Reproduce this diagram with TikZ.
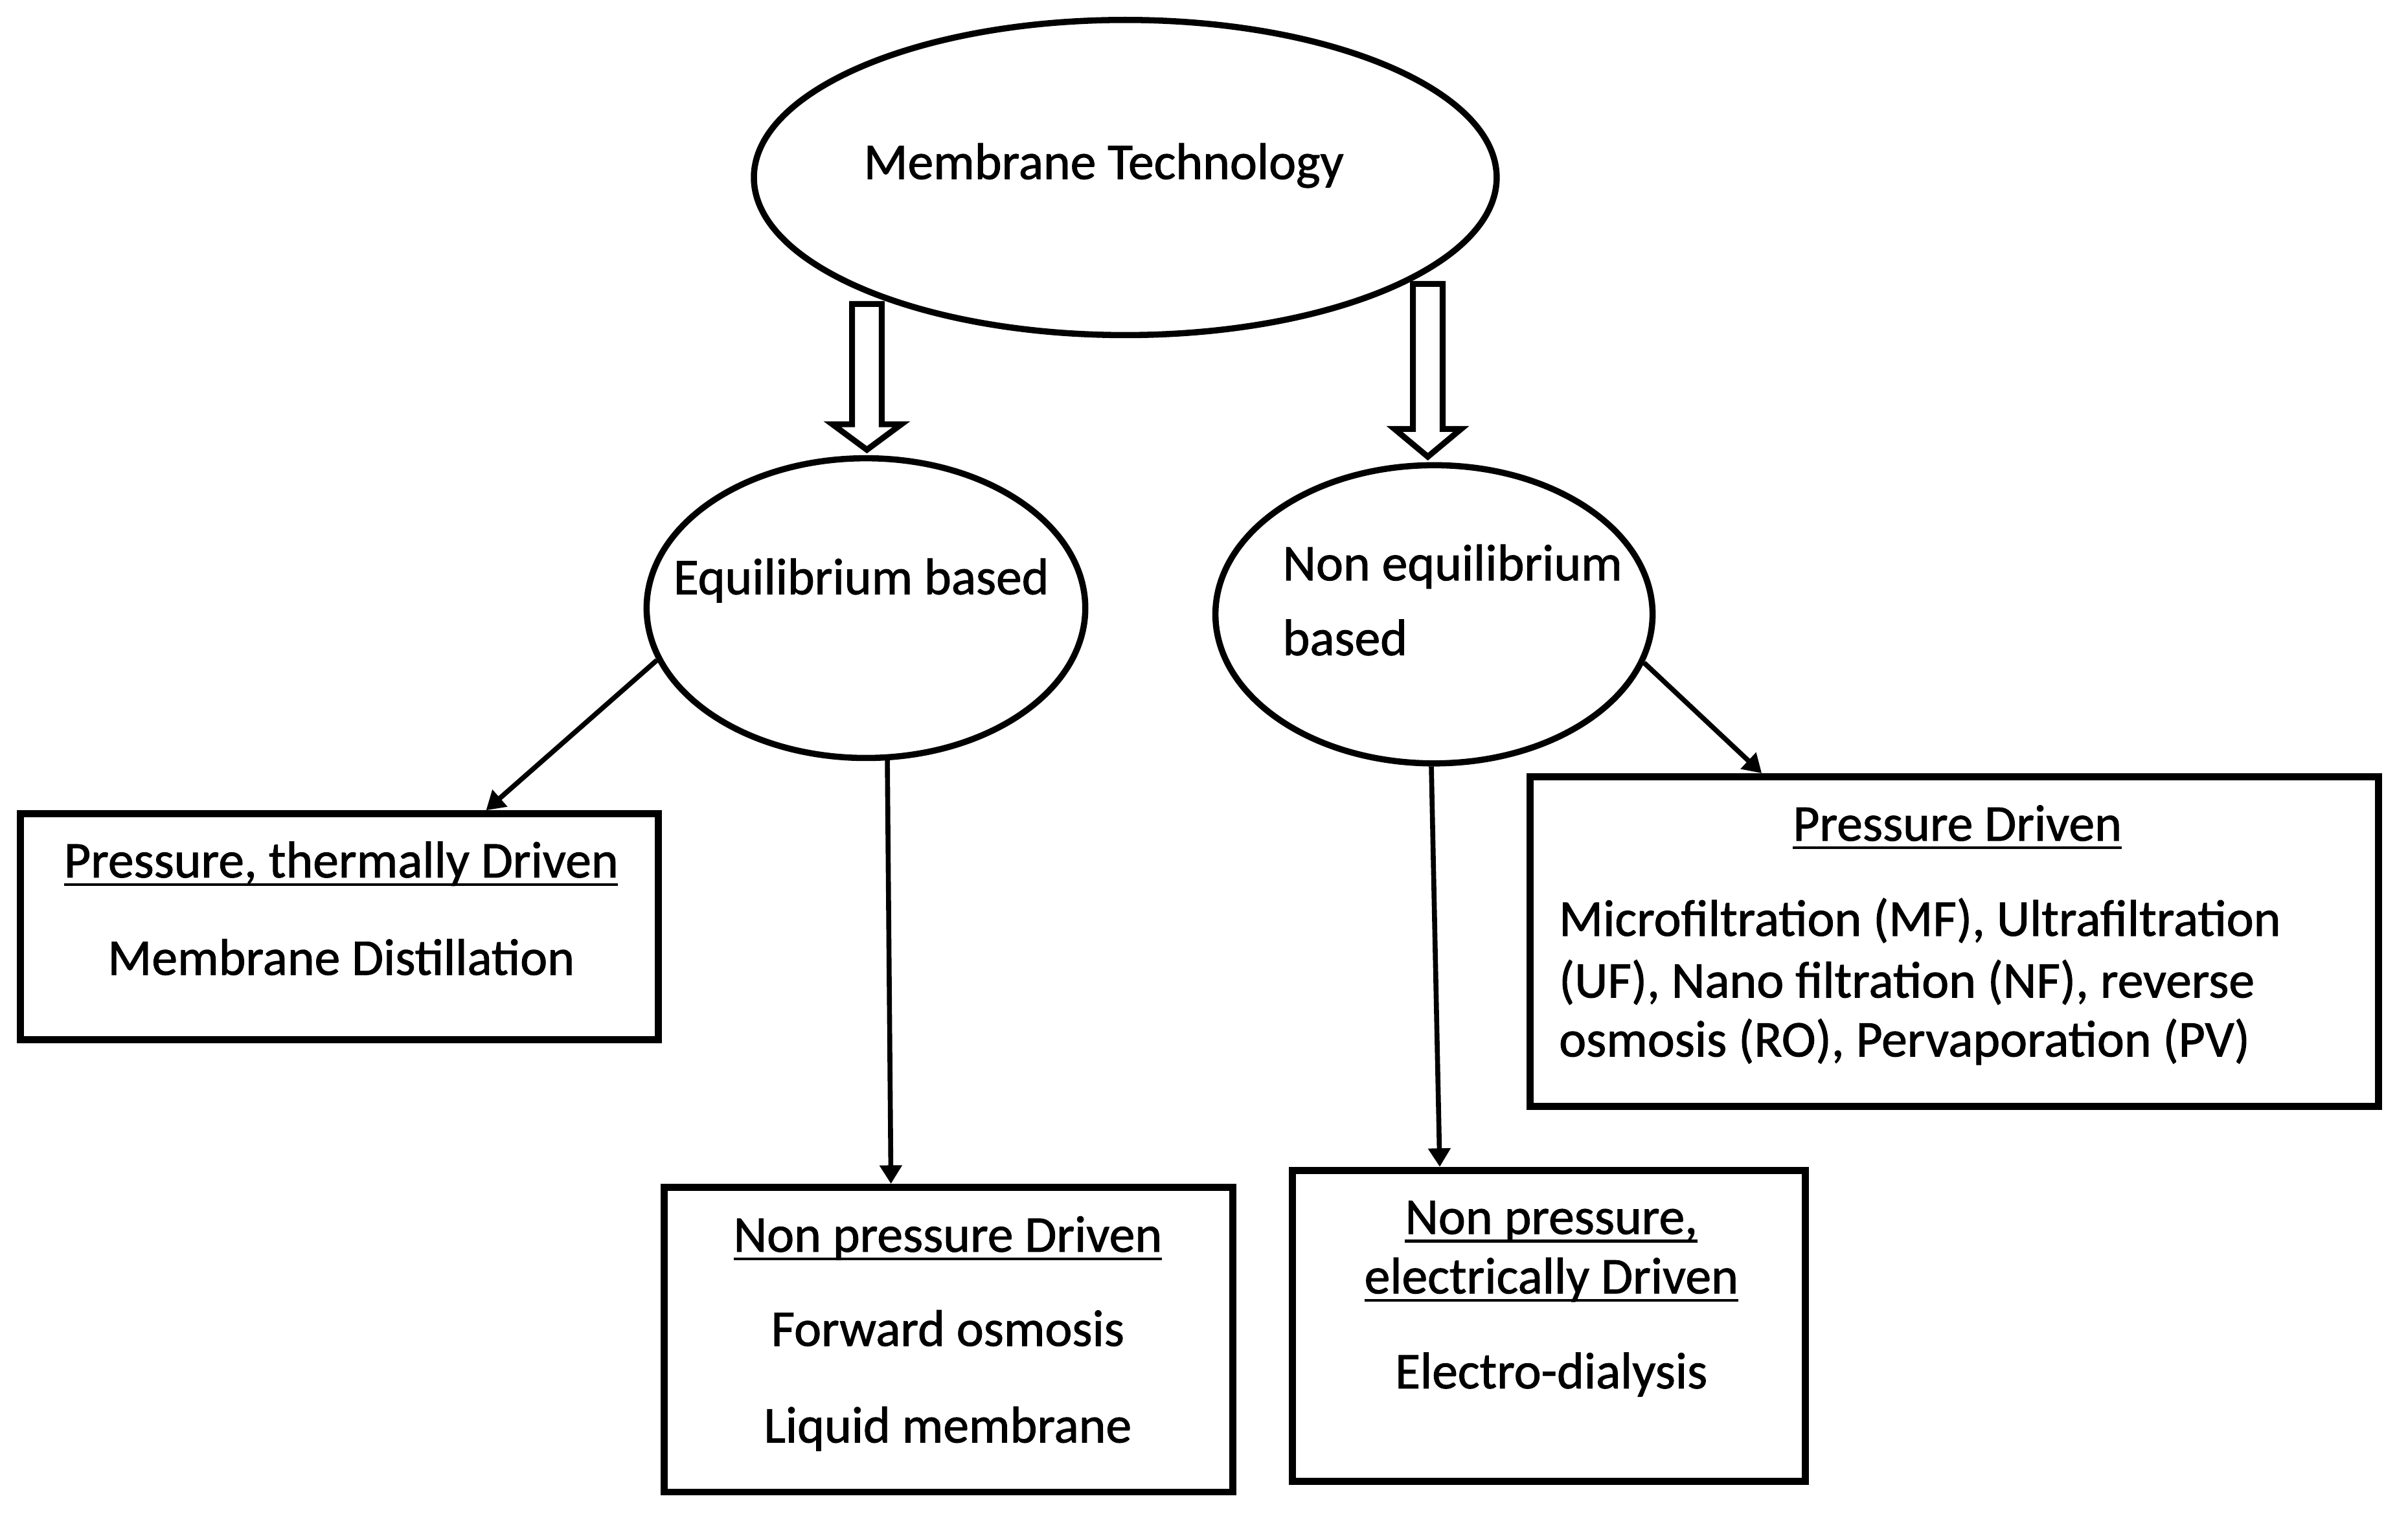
\documentclass[tikz,border=0pt]{standalone}
\usepackage{fontspec}
\setmainfont{Carlito}
\newfontfamily\lblfont{Carlito}[FakeBold=1.2]
\usetikzlibrary{shapes.geometric,arrows.meta,calc}
\begin{document}
\begin{tikzpicture}[x=0.5pt,y=-0.5pt,
  lbl/.style={font=\lblfont\fontsize{16.7pt}{20pt}\selectfont,inner sep=0pt,outer sep=0pt},
  ctext/.style={lbl,anchor=base},
  ltext/.style={lbl,anchor=base west},
  oval/.style={draw,ellipse,line width=2pt,inner sep=0pt},
  box/.style={draw,rectangle,line width=2.3pt,inner sep=0pt},
  conn/.style={line width=1.6pt,-{Triangle[length=6pt,width=7pt]}},
  uline/.style={line width=0.9pt},
  hollow/.style={draw,line width=1.9pt,fill=white,line join=miter}]
\useasboundingbox (0,0) rectangle (1560,982);

% ellipses
\node[oval,minimum width=240.6pt,minimum height=102.1pt] (mt) at (729,115) {};
\node[oval,minimum width=142.1pt,minimum height=97.1pt] (eq) at (561,394) {};
\node[oval,minimum width=141.6pt,minimum height=96.6pt] (neq) at (929,398) {};

% boxes
\node[box,minimum width=206.7pt,minimum height=73.2pt] (ptd) at (220,600.5) {};
\node[box,minimum width=184.2pt,minimum height=98.7pt] (npd) at (614.5,868) {};
\node[box,minimum width=274.7pt,minimum height=106.7pt] (pd) at (1266,610) {};
\node[box,minimum width=166.2pt,minimum height=100.7pt] (nped) at (1003.5,859) {};

% hollow block arrows
\begin{scope}[shift={(eq.north)}]
  \draw[hollow] (0.6,-3.5) -- (22.9,-20) -- (10.2,-20) -- (10.2,-98) -- (-9,-98) -- (-9,-20) -- (-21.7,-20) -- cycle;
\end{scope}
\begin{scope}[shift={(neq.north)}]
  \draw[hollow] (-4,-3.5) -- (17.6,-21.5) -- (5.6,-21.5) -- (5.6,-115.5) -- (-13.6,-115.5) -- (-13.6,-21.5) -- (-25.6,-21.5) -- cycle;
\end{scope}

% connectors
\draw[conn] (eq.194) -- ($(ptd.north west)!0.727!(ptd.north east)$);
\draw[conn] (eq.-82.5) -- ($(npd.north west)!0.40!(npd.north east)$);
\draw[conn] (neq.-91) -- ($(nped.north west)!0.29!(nped.north east)$);
\draw[conn] (neq.-13) -- ($(pd.north west)!0.275!(pd.north east)$);

% texts
\node[ctext] (t0) at (715,116) {Membrane Technology};
\node[ctext] (t1) at (558,385) {Equilibrium based};
\node[ltext] (t2) at (831,376) {Non equilibrium};
\node[ltext] (t3) at (831,424.5) {based};

\node[ctext] (t4) at (221,568.5) {Pressure, thermally Driven};
\draw[uline] ([yshift=-2.3pt]t4.base west) -- ([yshift=-2.3pt]t4.base east);
\node[ctext] (t5) at (221,631.6) {Membrane Distillation};

\node[ctext] (t6) at (614,811) {Non pressure Driven};
\draw[uline] ([yshift=-2.3pt]t6.base west) -- ([yshift=-2.3pt]t6.base east);
\node[ctext] (t7) at (614,872) {Forward osmosis};
\node[ctext] (t8) at (614,934.6) {Liquid membrane};

\node[ctext] (t9) at (1268,544.7) {Pressure Driven};
\draw[uline] ([yshift=-2.3pt]t9.base west) -- ([yshift=-2.3pt]t9.base east);
\node[ltext] (t10) at (1010,606.3) {Microfiltration (MF), Ultrafiltration};
\node[ltext] (t11) at (1010,646.3) {(UF), Nano filtration (NF), reverse};
\node[ltext] (t12) at (1010,684.5) {osmosis (RO), Pervaporation (PV)};

\node[ctext] (t13) at (1005,799.5) {Non pressure,};
\draw[uline] ([yshift=-2.3pt]t13.base west) -- ([yshift=-2.3pt]t13.base east);
\node[ctext] (t14) at (1005,838) {electrically Driven};
\draw[uline] ([yshift=-2.3pt]t14.base west) -- ([yshift=-2.3pt]t14.base east);
\node[ctext] (t15) at (1005,899.5) {Electro-dialysis};
\end{tikzpicture}
\end{document}
